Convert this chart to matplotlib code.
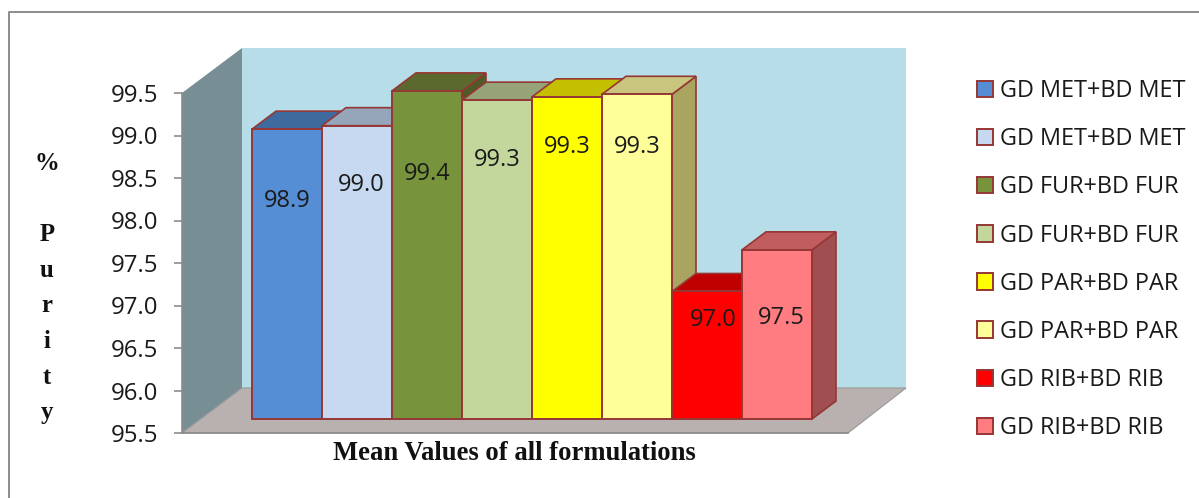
import matplotlib
matplotlib.use('Agg')
import matplotlib.pyplot as plt
from matplotlib.lines import Line2D

# chart values
legend_names = ['GD MET+BD MET', 'GD MET+BD MET', 'GD FUR+BD FUR', 'GD FUR+BD FUR',
                'GD PAR+BD PAR', 'GD PAR+BD PAR', 'GD RIB+BD RIB', 'GD RIB+BD RIB']
purity = [98.91, 98.951, 99.36, 99.251, 99.29, 99.32, 97.0, 97.49]
y_ticks = [95.5, 96.0, 96.5, 97.0, 97.5, 98.0, 98.5, 99.0, 99.5]

# colours
front_cols = ['#558ED5', '#C6D9F1', '#77933C', '#C3D69B', '#FFFF00', '#FFFF99', '#FF0000', '#FF7C80']
top_cols = ['#3F6A9E', '#95A5BA', '#5B692E', '#96A277', '#C4BF00', '#C9C47E', '#C00000', '#C25D5F']
side_cols = ['#34567F', '#7C8A9C', '#4E5B27', '#7F8A65', '#A5A100', '#A9A561', '#A00000', '#A04E50']
edge_col = '#953735'

# label placement, in px
label_drop = [72, 59, 83, 60, 50, 53, 29, 68]
label_dx = [0, 4, 0, 0, 0, 0, 6, 4]

W, H = 1199, 498
PX_X = 1 / 70   # one bar is 70 px wide
PX_Y = 1 / 85   # one purity unit is 85 px tall

fig = plt.figure(figsize=(W / 100, H / 100), dpi=100)
ax = fig.add_axes([182 / W, (H - 433) / H, 666 / W, 340 / H])
x_max = 666 * PX_X
base = y_ticks[0]
ax.set_xlim(0, x_max)
ax.set_ylim(base, y_ticks[-1])
ax.set_zorder(1)

# walls and floor
wall_dx, wall_dy = 60 * PX_X, 45 * PX_Y
top = y_ticks[-1]
ax.fill([0, wall_dx, wall_dx, 0], [base, base + wall_dy, top + wall_dy, top],
        color='#778E94', lw=0, clip_on=False, zorder=1)
ax.fill([wall_dx, x_max + 58 * PX_X, x_max + 58 * PX_X, wall_dx],
        [base + wall_dy, base + wall_dy, top + wall_dy, top + wall_dy],
        color='#B7DDE8', lw=0, clip_on=False, zorder=1)
ax.fill([0, wall_dx, x_max + 58 * PX_X, x_max], [base, base + wall_dy, base + wall_dy, base],
        facecolor='#B9B0B0', edgecolor='#9A9A9A', lw=0.8, clip_on=False, zorder=2)

# bars, left to right so each one covers the side of the previous one
lift = 14 * PX_Y
dx, dy = 24 * PX_X, 18 * PX_Y
for i, v in enumerate(purity):
    x0 = i + 1
    y0 = base + lift
    y1 = y0 + v - base
    z = 3 + i
    ax.fill([x0 + 1, x0 + 1 + dx, x0 + 1 + dx, x0 + 1], [y0, y0 + dy, y1 + dy, y1],
            facecolor=side_cols[i], edgecolor=edge_col, lw=1.2, clip_on=False, zorder=z)
    ax.fill([x0, x0 + 1, x0 + 1 + dx, x0 + dx], [y1, y1, y1 + dy, y1 + dy],
            facecolor=top_cols[i], edgecolor=edge_col, lw=1.2, clip_on=False, zorder=z)
    ax.bar(x0, v - base, width=1, bottom=y0, align='edge', color=front_cols[i],
           edgecolor=edge_col, lw=1.4, clip_on=False, zorder=z, label=legend_names[i])
    ax.text(x0 + 0.5 + label_dx[i] * PX_X, y1 - label_drop[i] * PX_Y, '%.1f' % v,
            ha='center', va='center', fontsize=17, family='Open Sans', color='#1A1A1A', zorder=20)

# axes
for s in ['top', 'right']:
    ax.spines[s].set_visible(False)
for s in ['left', 'bottom']:
    ax.spines[s].set_color('#8C8C8C')
    ax.spines[s].set_linewidth(1.2)
    ax.spines[s].set_zorder(3)
ax.set_xticks([])
ax.set_yticks(y_ticks)
ax.set_yticklabels(['%.1f' % t for t in y_ticks], family='Open Sans', fontsize=17.3, color='#1A1A1A')
ax.tick_params(axis='y', length=6, width=1.2, color='#8C8C8C', pad=11)

fig.text(514 / W, 1 - 453 / H, 'Mean Values of all formulations', ha='center', va='center',
         family='Liberation Serif', weight='bold', fontsize=19.2, color='#111111')
fig.text(47 / W, 1 - 288 / H, '%\n\nP\nu\nr\ni\nt\ny', ha='center', va='center', linespacing=1.7,
         family='Liberation Serif', weight='bold', fontsize=17.8, color='#111111')

leg = ax.legend(loc='upper left', bbox_to_anchor=(977 / W, 1 - 79 / H), bbox_transform=fig.transFigure,
                frameon=False, handlelength=0.7, handleheight=0.7, handletextpad=0.3, borderpad=0,
                borderaxespad=0, labelspacing=1.03,
                prop={'family': 'Open Sans', 'size': 16.9})
for t in leg.get_texts():
    t.set_color('#1A1A1A')

# outer chart border
fig.add_artist(Line2D([9 / W, 9 / W, 1], [0, 1 - 12 / H, 1 - 12 / H], color='#8C8C8C', lw=1.4))

fig.savefig('out.png', dpi=100)
